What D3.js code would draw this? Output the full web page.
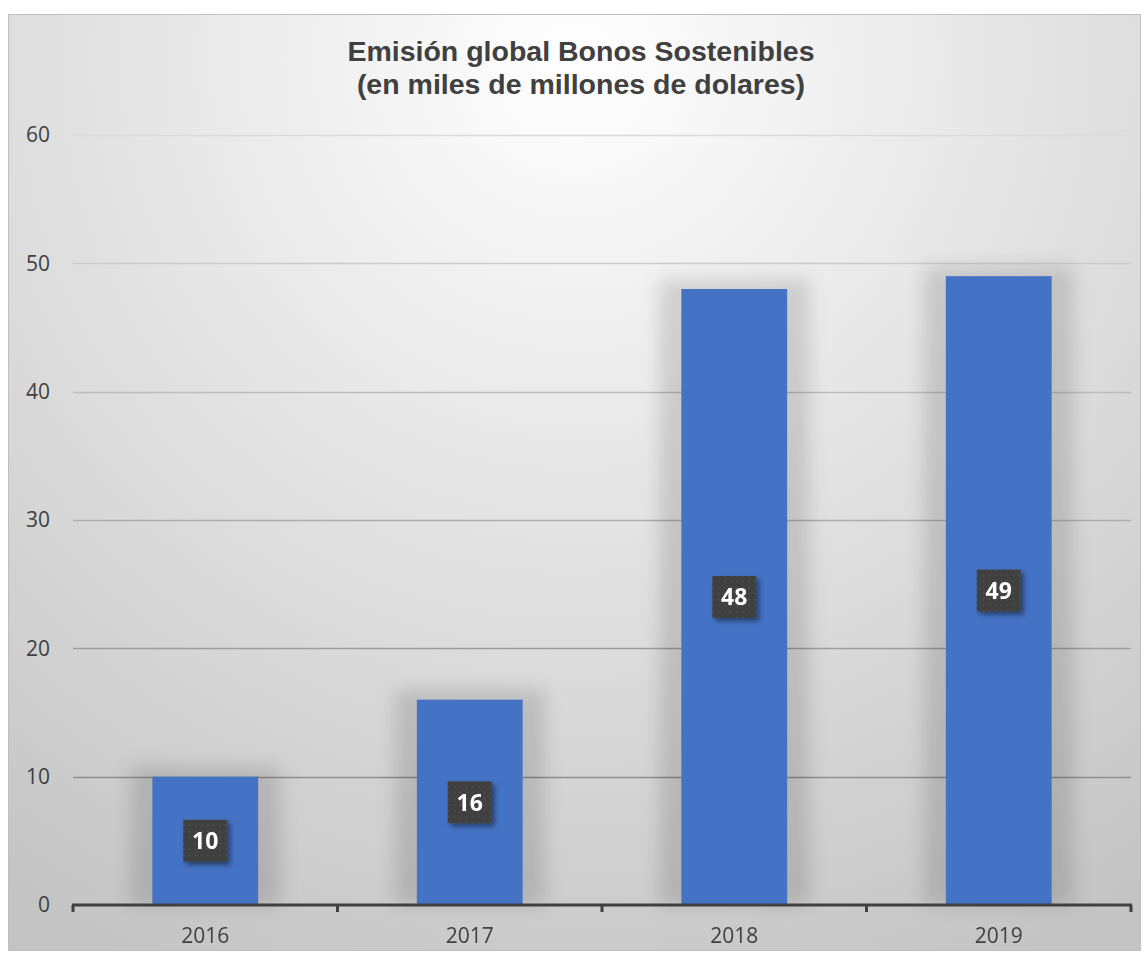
<!DOCTYPE html>
<html>
<head>
<meta charset="utf-8">
<script src="https://cdn.jsdelivr.net/npm/d3@7"></script>
<style>
  body { margin: 0; background: #fff; }
  svg { display: block; }
</style>
</head>
<body>
<svg id="chart" width="1148" height="961"></svg>
<script>
const years = ["2016", "2017", "2018", "2019"];
const values = [10, 16, 48, 49];
const yTicks = [0, 10, 20, 30, 40, 50, 60];
const titleLines = ["Emisión global Bonos Sostenibles", "(en miles de millones de dolares)"];

const svg = d3.select("#chart");
const frame = { x: 8, y: 14, w: 1132, h: 936 };
const margin = { left: 73, right: 1131, top: 135, bottom: 905 };
const tickFont = "'Open Sans', 'Liberation Sans', sans-serif";

const defs = svg.append("defs");

// fondo radial
const bg = defs.append("radialGradient")
  .attr("id", "bg")
  .attr("gradientUnits", "userSpaceOnUse")
  .attr("cx", 575).attr("cy", 60).attr("r", 1000);
bg.append("stop").attr("offset", "0%").attr("stop-color", "#ffffff");
bg.append("stop").attr("offset", "100%").attr("stop-color", "#c4c4c4");

// sombra difusa de las barras
const halo = defs.append("filter").attr("id", "halo")
  .attr("x", "-60%").attr("y", "-20%").attr("width", "220%").attr("height", "140%");
halo.append("feGaussianBlur").attr("stdDeviation", 9);

// sombra de las etiquetas
const lab = defs.append("filter").attr("id", "labshadow")
  .attr("x", "-30%").attr("y", "-30%").attr("width", "170%").attr("height", "170%");
lab.append("feDropShadow").attr("dx", 3).attr("dy", 3).attr("stdDeviation", 2.5)
  .attr("flood-color", "#000").attr("flood-opacity", 0.45);

// trama punteada de las etiquetas
const pat = defs.append("pattern").attr("id", "dots")
  .attr("patternUnits", "userSpaceOnUse").attr("width", 6).attr("height", 6);
pat.append("rect").attr("width", 6).attr("height", 6).attr("fill", "#404040");
pat.append("rect").attr("x", 2).attr("y", 2).attr("width", 1.3).attr("height", 1.3).attr("fill", "#595959");

svg.append("rect")
  .attr("x", frame.x + 0.5).attr("y", frame.y + 0.5)
  .attr("width", frame.w).attr("height", frame.h)
  .attr("fill", "url(#bg)")
  .attr("stroke", "#bfbfbf");

const x = d3.scaleBand()
  .domain(years)
  .range([margin.left, margin.right])
  .paddingInner(0.6)
  .paddingOuter(0.3);

const y = d3.scaleLinear()
  .domain([0, 60])
  .range([margin.bottom, margin.top]);

// gridlines, más oscuras hacia abajo
const gridColor = d3.scaleLinear().domain([60, 0]).range(["#dadada", "#7f7f7f"]);
svg.append("g")
  .selectAll("line")
  .data(yTicks.filter(d => d > 0))
  .join("line")
  .attr("x1", margin.left).attr("x2", margin.right)
  .attr("y1", d => Math.round(y(d)) + 0.5).attr("y2", d => Math.round(y(d)) + 0.5)
  .attr("stroke", d => gridColor(d))
  .attr("stroke-width", 1.5);

// eje y (solo etiquetas)
const yAxis = svg.append("g")
  .attr("transform", `translate(${margin.left - 23},0)`)
  .call(d3.axisLeft(y).tickValues(yTicks).tickSize(0).tickPadding(0));
yAxis.select(".domain").remove();
yAxis.selectAll("text")
  .attr("font-family", tickFont)
  .attr("font-size", 21)
  .attr("fill", "#404040");

// halos de las barras
svg.append("g")
  .attr("filter", "url(#halo)")
  .selectAll("rect")
  .data(values)
  .join("rect")
  .attr("x", (d, i) => x(years[i]) - 22)
  .attr("y", d => y(d) - 10)
  .attr("width", x.bandwidth() + 44)
  .attr("height", d => y(0) - y(d) + 10)
  .attr("fill", "#000")
  .attr("opacity", 0.13);

// barras
svg.append("g")
  .selectAll("rect")
  .data(values)
  .join("rect")
  .attr("x", (d, i) => x(years[i]))
  .attr("y", d => y(d))
  .attr("width", x.bandwidth())
  .attr("height", d => y(0) - y(d))
  .attr("fill", "#4472c4");

// eje x
const xAxisScale = d3.scalePoint()
  .domain(d3.range(years.length + 1))
  .range([margin.left, margin.right]);
const xAxis = svg.append("g")
  .attr("transform", `translate(0,${margin.bottom})`);
xAxis.append("line")
  .attr("x1", margin.left - 1).attr("x2", margin.right + 1)
  .attr("stroke", "#404040").attr("stroke-width", 3);
xAxis.selectAll("line.tick")
  .data(xAxisScale.domain())
  .join("line")
  .attr("class", "tick")
  .attr("x1", d => xAxisScale(d)).attr("x2", d => xAxisScale(d))
  .attr("y1", 0).attr("y2", 7)
  .attr("stroke", "#404040").attr("stroke-width", 3);
xAxis.selectAll("text")
  .data(years)
  .join("text")
  .attr("x", d => x(d) + x.bandwidth() / 2)
  .attr("y", 38)
  .attr("text-anchor", "middle")
  .attr("font-family", tickFont)
  .attr("font-size", 21)
  .attr("fill", "#404040")
  .text(d => d);

// etiquetas de datos
const labels = svg.append("g")
  .selectAll("g")
  .data(values)
  .join("g")
  .attr("transform", (d, i) => `translate(${x(years[i]) + x.bandwidth() / 2},${y(d / 2)})`);
labels.append("rect")
  .attr("x", -22).attr("y", -21)
  .attr("width", 44).attr("height", 42)
  .attr("fill", "url(#dots)")
  .attr("filter", "url(#labshadow)");
labels.append("text")
  .attr("text-anchor", "middle")
  .attr("dy", "0.36em")
  .attr("font-family", tickFont)
  .attr("font-weight", "bold")
  .attr("font-size", 23)
  .attr("fill", "#fff")
  .text(d => d);

// título
svg.append("g")
  .selectAll("text")
  .data(titleLines)
  .join("text")
  .attr("x", 581)
  .attr("y", (d, i) => 61 + i * 33)
  .attr("text-anchor", "middle")
  .attr("font-family", "'Liberation Sans', Arial, sans-serif")
  .attr("font-weight", "bold")
  .attr("font-size", 28.5)
  .attr("fill", "#404040")
  .text(d => d);
</script>
</body>
</html>
